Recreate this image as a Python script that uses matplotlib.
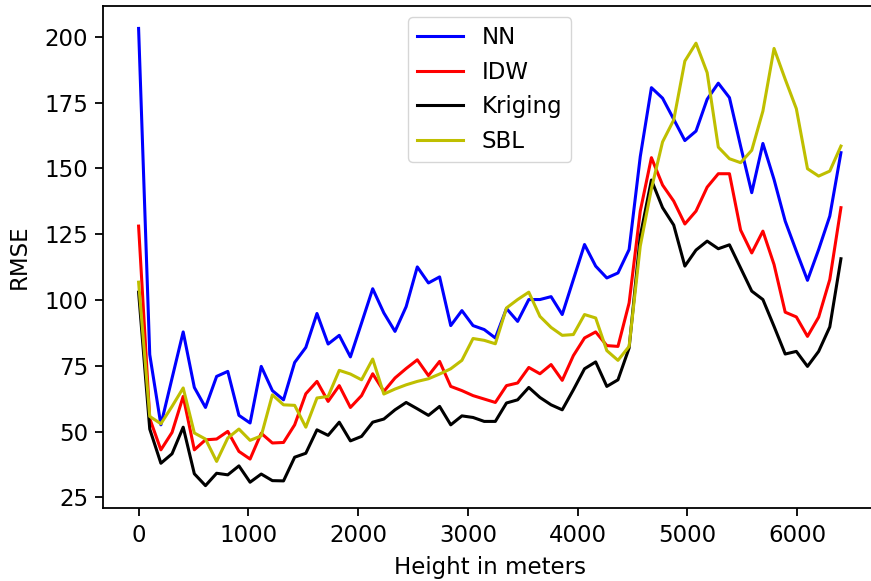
import numpy as np
import matplotlib
matplotlib.use("Agg")
import matplotlib.pyplot as plt

# 64 height levels between 0 and 6400 m
heights = np.linspace(0, 6400, 64)

nn = [203.2, 79.3, 52.6, 70.3, 87.9, 66.8, 59.2, 71.0, 72.9, 56.2,
      53.3, 74.8, 65.6, 62.1, 76.3, 82.0, 94.9, 83.3, 86.6, 78.4,
      91.3, 104.3, 95.1, 88.1, 97.5, 112.6, 106.5, 108.8, 90.3, 96.0,
      90.3, 88.8, 85.6, 96.8, 91.9, 100.2, 100.2, 101.3, 94.5, 107.8,
      121.1, 112.9, 108.4, 110.3, 119.2, 154.5, 180.7, 176.7, 168.7, 160.6,
      164.2, 176.3, 182.4, 176.9, 158.5, 140.8, 159.5, 145.8, 130.0, 118.6,
      107.5, 119.2, 131.9, 156.0]

idw = [128.1, 55.0, 43.1, 49.7, 63.4, 43.1, 46.9, 47.2, 50.1, 42.5,
       39.6, 49.4, 45.7, 45.9, 52.6, 64.4, 69.1, 61.5, 67.5, 59.2,
       63.7, 72.0, 65.3, 70.4, 74.0, 77.3, 71.3, 76.7, 67.2, 65.6,
       63.7, 62.4, 61.1, 67.5, 68.5, 74.4, 72.0, 75.5, 69.5, 78.9,
       85.6, 87.9, 82.7, 82.4, 98.9, 133.8, 154.1, 143.7, 137.6, 128.9,
       133.8, 142.9, 148.0, 148.0, 126.6, 117.9, 126.2, 113.5, 95.4, 93.6,
       86.2, 93.5, 107.8, 135.1]

kriging = [103.0, 51.0, 38.0, 41.6, 51.7, 34.0, 29.5, 34.2, 33.6, 37.0,
           30.8, 33.9, 31.4, 31.3, 40.3, 41.8, 50.7, 48.6, 53.6, 46.5,
           48.2, 53.6, 54.8, 58.3, 61.1, 58.7, 56.2, 59.6, 52.6, 56.0,
           55.4, 53.9, 53.9, 60.9, 62.1, 66.8, 63.0, 60.2, 58.3, 65.9,
           73.9, 76.5, 67.2, 69.7, 81.8, 124.3, 145.6, 135.1, 128.5, 112.9,
           119.0, 122.4, 119.5, 121.0, 112.2, 103.4, 100.2, 90.0, 79.5, 80.5,
           74.8, 80.5, 89.8, 115.7]

sbl = [106.8, 55.8, 53.0, 59.6, 66.6, 49.5, 47.2, 38.7, 47.6, 51.0,
       46.7, 48.4, 64.0, 60.2, 60.0, 51.7, 62.8, 63.4, 73.3, 71.9,
       69.7, 77.6, 64.3, 66.2, 67.8, 69.1, 70.1, 71.9, 73.9, 77.1,
       85.4, 84.7, 83.4, 97.0, 100.2, 103.0, 93.8, 89.6, 86.6, 86.9,
       94.5, 93.2, 80.8, 77.1, 82.4, 120.5, 142.3, 160.1, 168.4, 190.8,
       197.6, 186.4, 158.1, 153.7, 152.2, 156.9, 171.8, 195.6, 183.9, 172.7,
       149.9, 147.1, 149.0, 158.5]

SERIES = [
    ("NN", nn, "b"),
    ("IDW", idw, "r"),
    ("Kriging", kriging, "k"),
    ("SBL", sbl, "y"),
]


def main() -> None:
    plt.rcParams["font.size"] = 16.5
    plt.rcParams["axes.linewidth"] = 1.3
    for axis in ("xtick", "ytick"):
        plt.rcParams[f"{axis}.major.size"] = 6
        plt.rcParams[f"{axis}.major.width"] = 1.3
        plt.rcParams[f"{axis}.major.pad"] = 5

    fig = plt.figure(figsize=(8.71, 5.81), dpi=100)
    ax = fig.add_axes([0.1188, 0.1248, 0.887, 0.8656])
    for label, values, color in SERIES:
        ax.plot(heights, values, color=color, linewidth=2.2, label=label)

    ax.set_xlabel("Height in meters", labelpad=7)
    ax.set_ylabel("RMSE", labelpad=10)
    ax.legend(loc="upper center")
    fig.savefig("out.png", dpi=100)
    plt.close(fig)


if __name__ == "__main__":
    main()
